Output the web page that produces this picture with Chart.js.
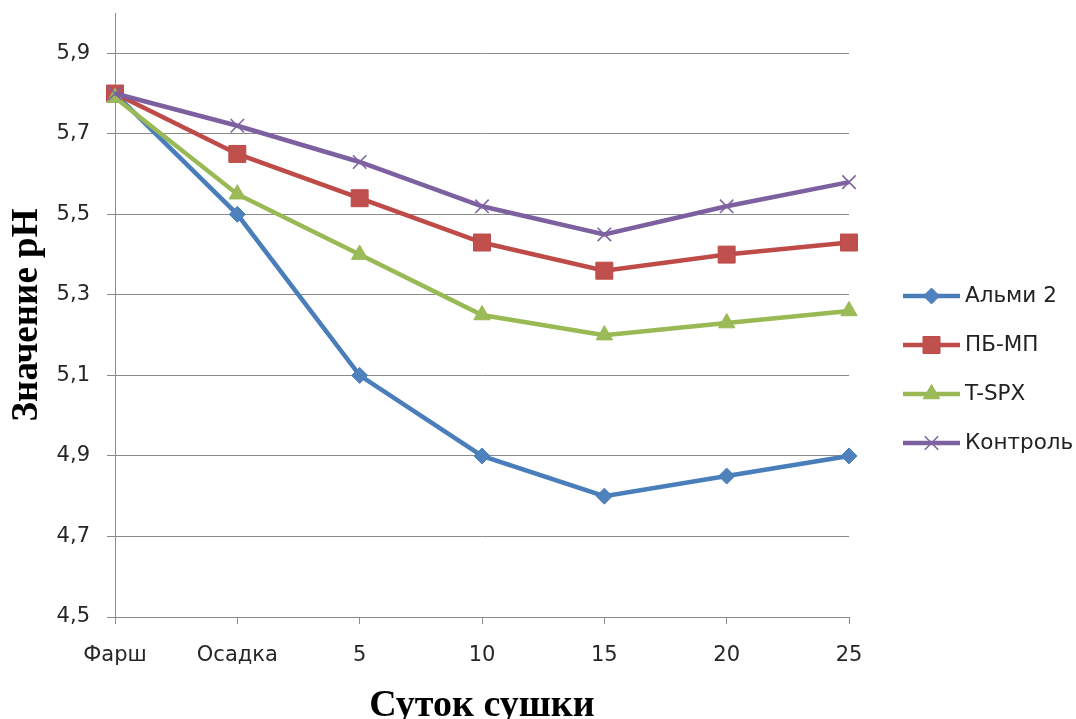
<!DOCTYPE html>
<html><head><meta charset="utf-8">
<script src="https://cdn.jsdelivr.net/npm/chart.js@4/dist/chart.umd.min.js"></script>
<style>html,body{margin:0;padding:0;background:#fff}#wrap{width:1076px;height:719px}</style>
</head><body><div id="wrap"><canvas id="c" width="1076" height="719"></canvas></div>
<script>
const categories = ['Фарш', 'Осадка', '5', '10', '15', '20', '25'];
const seriesNames = ['Альми 2', 'ПБ-МП', 'T-SPX', 'Контроль'];
const almi2 = [5.80, 5.50, 5.10, 4.90, 4.80, 4.85, 4.90];
const pbmp = [5.80, 5.65, 5.54, 5.43, 5.36, 5.40, 5.43];
const tspx = [5.79, 5.55, 5.40, 5.25, 5.20, 5.23, 5.26];
const kontrol = [5.80, 5.72, 5.63, 5.52, 5.45, 5.52, 5.58];
const yTickValues = [4.5, 4.7, 4.9, 5.1, 5.3, 5.5, 5.7, 5.9];
const xTitle = 'Суток сушки';
const yTitle = 'Значение pH';

const seriesValues = [almi2, pbmp, tspx, kontrol];
const styles = [
  {line: '#4A7EBB', fill: '#4F81BD', point: 'rectRot', r: 8, bw: 1},
  {line: '#BE4B48', fill: '#C0504D', point: 'rect', r: 12, bw: 1},
  {line: '#98B954', fill: '#9BBB59', point: 'triangle', r: 9.5, bw: 1},
  {line: '#7D60A0', fill: '#8064A2', point: 'crossRot', r: 9.5, bw: 1.6}
];
const gridColor = '#8a8a8a';
const tickFont = {family: 'DejaVu Sans', size: 21};
const titleFont = {family: 'Liberation Serif', size: 38, weight: 'bold', lineHeight: 0.66};

const datasets = seriesNames.map((name, i) => ({
  label: name,
  data: seriesValues[i],
  borderColor: styles[i].line,
  backgroundColor: styles[i].fill,
  borderWidth: 4.5,
  tension: 0,
  pointStyle: styles[i].point,
  pointRadius: styles[i].r,
  pointHoverRadius: styles[i].r,
  pointBackgroundColor: styles[i].fill,
  pointBorderColor: styles[i].point === 'crossRot' ? styles[i].fill : styles[i].line,
  pointBorderWidth: styles[i].bw,
  order: seriesNames.length - i
}));

const legendPlugin = {
  id: 'excelLegend',
  afterDraw(chart) {
    const ctx = chart.ctx;
    const ca = chart.chartArea;
    const x0 = ca.right + 54;
    const midY = (ca.top + ca.bottom) / 2 + 54.5;
    ctx.save();
    chart.data.datasets.forEach((ds, i) => {
      const y = midY + (i - 1.5) * 49;
      ctx.strokeStyle = ds.borderColor;
      ctx.lineWidth = 4.5;
      ctx.beginPath();
      ctx.moveTo(x0, y);
      ctx.lineTo(x0 + 57, y);
      ctx.stroke();
      ctx.fillStyle = ds.pointBackgroundColor;
      ctx.strokeStyle = ds.pointBorderColor;
      ctx.lineWidth = ds.pointBorderWidth;
      Chart.helpers.drawPoint(ctx, {pointStyle: ds.pointStyle, radius: ds.pointRadius, borderWidth: ds.pointBorderWidth, rotation: 0}, x0 + 28.5, y);
      ctx.fillStyle = '#222222';
      ctx.font = '21.5px "DejaVu Sans"';
      ctx.textBaseline = 'middle';
      ctx.textAlign = 'left';
      ctx.fillText(ds.label, x0 + 62, y);
    });
    ctx.restore();
  }
};

new Chart(document.getElementById('c'), {
  type: 'line',
  data: {labels: categories, datasets},
  plugins: [legendPlugin],
  options: {
    responsive: false,
    devicePixelRatio: 1,
    animation: false,
    layout: {padding: {left: 0, top: 13, right: 227, bottom: 0}},
    plugins: {legend: {display: false}, tooltip: {enabled: false}},
    scales: {
      x: {
        type: 'category',
        offset: false,
        afterFit(s) { s.height = 102; s.paddingLeft = 0; s.paddingRight = 0; },
        grid: {drawOnChartArea: false, drawTicks: true, tickLength: 7, color: gridColor, lineWidth: 1},
        border: {display: true, color: gridColor, width: 1},
        ticks: {font: tickFont, color: '#262626', padding: 19, maxRotation: 0, autoSkip: false},
        title: {display: true, text: xTitle, font: titleFont, color: '#000000', padding: {top: 0, bottom: 0}}
      },
      y: {
        min: 4.5,
        max: 6.0,
        afterFit(s) { s.width = 115; s.paddingTop = 0; s.paddingBottom = 0; },
        afterBuildTicks(s) { s.ticks = yTickValues.map(v => ({value: v})); },
        grid: {color: gridColor, lineWidth: 1, tickLength: 8, drawTicks: true},
        border: {display: true, color: gridColor, width: 1},
        ticks: {font: tickFont, color: '#262626', padding: 17, callback: v => Number(v).toFixed(1).replace('.', ',')},
        title: {display: true, text: yTitle, font: {family: 'Liberation Serif', size: 37, weight: 'bold', lineHeight: 1.2}, color: '#000000', padding: {top: 5, bottom: 0}}
      }
    }
  }
});
</script>
</body></html>
